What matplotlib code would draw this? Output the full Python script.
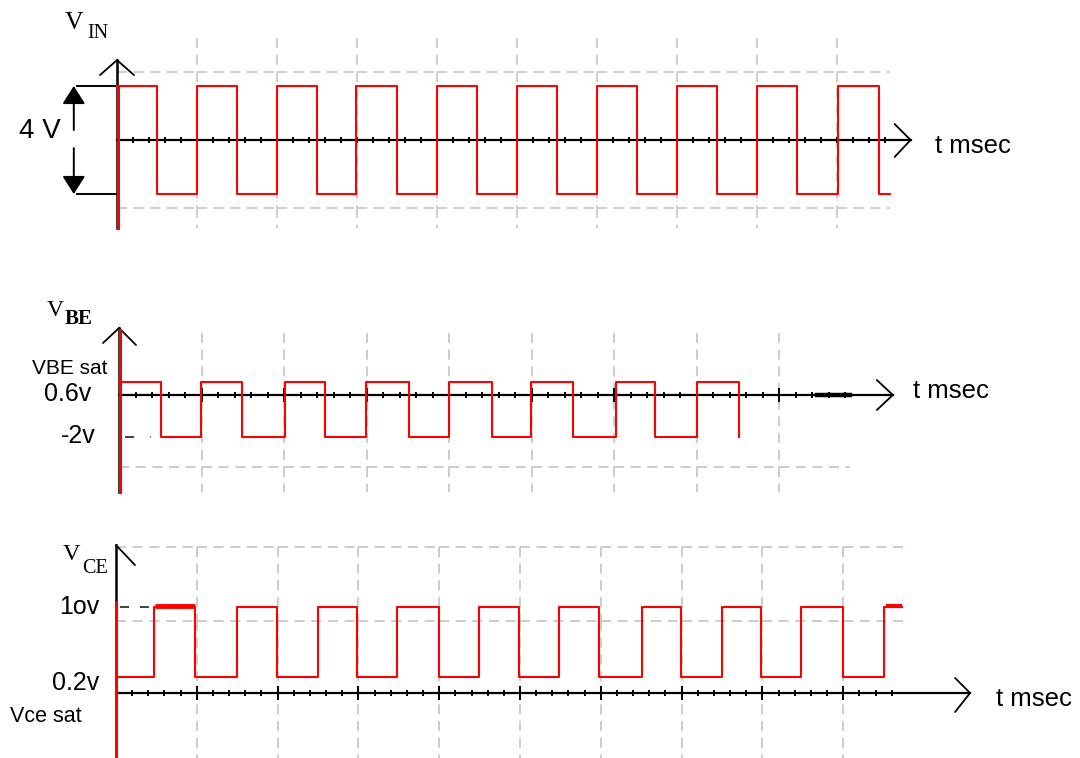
import numpy as np
import matplotlib
matplotlib.use("Agg")
import matplotlib.pyplot as plt

W, H = 1080, 758

# ---------------- waveform data (time in grid divisions, levels in volts) ----------------
VIN_HIGH, VIN_LOW = 2.0, -2.0
VIN_EDGES = [0.50, 1.00, 1.50, 2.00, 2.50, 2.99, 3.50, 4.00, 4.50, 5.00,
             5.50, 6.00, 6.50, 7.00, 7.50, 8.00, 8.50, 9.01, 9.53]
VIN_END = 9.66

VBE_HIGH, VBE_LOW = 0.6, -2.0
VBE_EDGES = [0.51, 0.99, 1.49, 2.01, 2.50, 2.99, 3.52, 4.00, 4.52, 4.99,
             5.50, 6.02, 6.50, 7.01, 7.52]
VBE_END = 7.52

VCE_HIGH, VCE_LOW = 10.0, 0.2
VCE_EDGES = [0.47, 0.98, 1.50, 1.99, 2.50, 2.98, 3.48, 4.00, 4.49, 4.99,
             5.48, 5.98, 6.51, 6.99, 7.50, 7.98, 8.48, 9.00, 9.50]
VCE_END = 9.73

RED = "#ff0000"
GRID = "#c4c4c4"
SANS = "Liberation Sans"
SERIF = "Liberation Serif"

fig = plt.figure(figsize=(W / 100, H / 100), dpi=100)
fig.patch.set_facecolor("white")


def make_panel(name, x0, y0, sx, sy, power=None):
    """Axes covering the figure whose origin sits at pixel (x0, y0)."""
    ax = fig.add_axes([0, 0, 1, 1], label=name)
    ax.set_axis_off()
    ax.patch.set_visible(False)
    ax.set_xlim(-x0 / sx, (W - x0) / sx)
    if power is None:
        ax.set_ylim((y0 - H) / sy, y0 / sy)
    else:
        def fwd(v):
            v = np.asarray(v, dtype=float)
            return np.sign(v) * np.abs(v) ** power

        def inv(u):
            u = np.asarray(u, dtype=float)
            return np.sign(u) * np.abs(u) ** (1.0 / power)

        ax.set_yscale("function", functions=(fwd, inv))
        ax.set_ylim(float(inv((y0 - H) / sy)), float(inv(y0 / sy)))
    return ax


def square_wave(edges, end, first, second):
    t, v = [0.0], [first]
    level, other = first, second
    for e in edges:
        t += [e, e]
        v += [level, other]
        level, other = other, level
    t.append(end)
    v.append(level)
    return t, v


def open_head(ax, x, y, offsets):
    for off in offsets:
        ax.annotate("", xy=(x, y), xytext=off, textcoords="offset pixels",
                    arrowprops=dict(arrowstyle="-", color="black", lw=1.3,
                                    shrinkA=0, shrinkB=0))


def dashed(ax, xs, ys):
    ax.plot(xs, ys, color=GRID, lw=1.2, dashes=(6, 4), solid_capstyle="butt",
            dash_capstyle="butt", zorder=1)


def grid(ax, cols, col_top, col_bottom, rows, row_end):
    # horizontal rows, restarting the dash pattern at each column
    for r in rows:
        starts = [0.0] + [c for c in cols if c < row_end]
        for i, s in enumerate(starts):
            e = starts[i + 1] if i + 1 < len(starts) else row_end
            dashed(ax, [s, e], [r, r])
    # vertical columns, restarting at each row
    stops = sorted([col_top] + [r for r in rows if col_bottom < r < col_top]
                   + [col_bottom], reverse=True)
    for c in cols:
        for a, b in zip(stops[:-1], stops[1:]):
            dashed(ax, [c, c], [a, b])


def axes_lines(ax, t_tip, v_bottom, v_top, ticks, majors, red_from, red_to,
               red_dx):
    ax.plot([0, t_tip], [0, 0], color="black", lw=1.6, zorder=3)
    ax.plot([0, 0], [v_bottom, v_top], color="black", lw=1.8, zorder=3)
    ax.plot(ticks, np.zeros(len(ticks)), ls="none", marker="|", ms=5,
            mew=1.4, color="black", zorder=3)
    if len(majors):
        ax.plot(majors, np.zeros(len(majors)), ls="none", marker="|", ms=10,
                mew=1.4, color="black", zorder=3)
    # red trace running up the vertical axis
    ax.plot([red_dx, red_dx], [red_from, red_to], color=RED, lw=2.2, zorder=4)


def ftext(x, y, s, size, family=SANS, ha="center", va="center", **kw):
    fig.text(x / W, 1 - y / H, s, fontsize=size, family=family, ha=ha, va=va,
             **kw)


# ================= V_IN =================
ax1 = make_panel("vin", 117, 140, 80.0, 27.0)
grid(ax1, cols=list(range(1, 10)), col_top=3.78, col_bottom=-3.26,
     rows=[2.52, -2.52], row_end=9.66)
ticks1 = np.arange(1, 49) * 0.2
axes_lines(ax1, 9.92, -3.26, 2.96, ticks1, [], -3.26, VIN_HIGH, 0.018)
open_head(ax1, 9.92, 0, [(-16, 16), (-16, -17)])
open_head(ax1, 0, 2.96, [(-17, -15), (17, -15)])
t, v = square_wave(VIN_EDGES, VIN_END, VIN_HIGH, VIN_LOW)
ax1.plot(t, v, color=RED, lw=1.5, zorder=4)

# 4 V peak-to-peak dimension
for lvl in (VIN_HIGH, VIN_LOW):
    ax1.plot([-0.5, 0], [lvl, lvl], color="black", lw=1.4, zorder=3)
for a, b in ((0.37, VIN_HIGH), (-0.30, VIN_LOW)):
    ax1.annotate("", xy=(-0.54, b), xytext=(-0.54, a),
                 arrowprops=dict(arrowstyle="-|>,head_length=1.1,head_width=0.7",
                                 mutation_scale=10, color="black", lw=1.4,
                                 shrinkA=0, shrinkB=0))
ftext(40, 131, "4 V", 20)
ftext(935, 146, "t msec", 18.5, ha="left")
ftext(65, 29, "V", 18.5, family=SERIF, ha="left", va="baseline")
ftext(87, 38, "IN", 14.5, family=SERIF, ha="left", va="baseline")

# ================= V_BE =================
ax2 = make_panel("vbe", 119, 395, 82.5, 21.0)
grid(ax2, cols=list(range(1, 9)), col_top=2.95, col_bottom=-4.62,
     rows=[-3.43], row_end=8.86)
ticks2 = np.arange(1, 45) * 0.2
axes_lines(ax2, 9.38, -4.62, 3.19, ticks2, np.arange(1, 9), -4.62, 3.10,
           0.017)
open_head(ax2, 9.38, 0, [(-16, 15), (-16, -15)])
open_head(ax2, 0, 3.19, [(-16, -15), (17, -17)])
t, v = square_wave(VBE_EDGES, VBE_END, VBE_HIGH, VBE_LOW)
ax2.plot(t, v, color=RED, lw=1.5, zorder=4)
ax2.plot([8.46, 8.86], [0, 0], color="black", lw=3.2, zorder=3)
ax2.plot([0.07, 0.39], [VBE_LOW, VBE_LOW], color="#333333", lw=1.3,
         dashes=(5, 9), zorder=3)
ftext(47, 316, "V", 17, family=SERIF, ha="left", va="baseline")
ftext(65, 324, "BE", 15, family=SERIF, ha="left", va="baseline",
      weight="bold")
ftext(70, 369, "VBE sat", 15)
ftext(68, 394, "0.6v", 18)
ftext(78, 436, "-2v", 18)
ftext(913, 391, "t msec", 18.5, ha="left")

# ================= V_CE =================
ax3 = make_panel("vce", 116, 693, 80.8, 31.95, power=0.43)
ylo3 = ax3.get_ylim()[0]
grid(ax3, cols=list(range(1, 10)), col_top=34.3, col_bottom=ylo3,
     rows=[34.3, 6.62], row_end=9.83)
ticks3 = np.arange(1, 49) * 0.2
axes_lines(ax3, 10.57, ylo3, 35.3, ticks3, np.arange(1, 10), ylo3, 11.4,
           0.0)
open_head(ax3, 10.57, 0, [(-15, 15), (-15, -19)])
open_head(ax3, 0, 35.3, [(19, -20)])
t, v = square_wave(VCE_EDGES, VCE_END, VCE_LOW, VCE_HIGH)
ax3.plot(t, v, color=RED, lw=1.5, zorder=4)
ax3.plot([0.48, 0.98], [VCE_HIGH * 1.04, VCE_HIGH * 1.04], color=RED, lw=3.5,
         solid_capstyle="butt", zorder=4)
ax3.plot([9.53, 9.73], [VCE_HIGH * 1.03, VCE_HIGH * 1.03], color=RED, lw=3.0,
         solid_capstyle="butt", zorder=4)
ax3.plot([0.05, 0.46], [VCE_HIGH, VCE_HIGH], color="#333333", lw=1.3,
         dashes=(5, 6), zorder=3)
ftext(63, 560, "V", 17.5, family=SERIF, ha="left", va="baseline")
ftext(82, 573, "CE", 14.5, family=SERIF, ha="left", va="baseline")
ftext(79, 607, "1ov", 18)
ftext(76, 683, "0.2v", 18)
ftext(10, 716, "Vce sat", 15.5, ha="left")
ftext(996, 699, "t msec", 18.5, ha="left")

fig.savefig("out.png", dpi=100, facecolor="white")
